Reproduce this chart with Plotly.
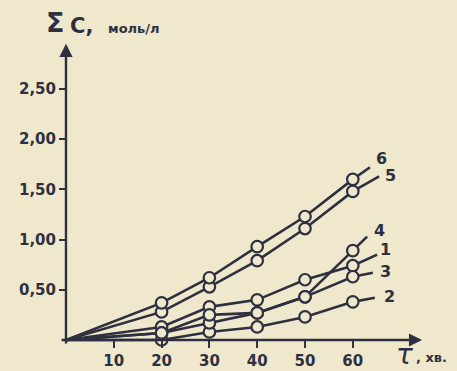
import plotly.graph_objects as go

# ---- data ----
times = [20, 30, 40, 50, 60]
series_names = ["1", "2", "3", "4", "5", "6"]
s1 = [0.13, 0.33, 0.40, 0.60, 0.74]
s2 = [0.00, 0.08, 0.13, 0.23, 0.38]
s3 = [0.07, 0.17, 0.27, 0.43, 0.63]
s4 = [0.07, 0.25, 0.27, 0.43, 0.89]
s5 = [0.28, 0.53, 0.79, 1.11, 1.48]
s6 = [0.37, 0.62, 0.93, 1.23, 1.60]
# hand-drawn line ends beyond the last point
tail_x = [65.1, 64.6, 64.2, 63.0, 65.5, 63.6]
tail_y = [0.85, 0.42, 0.67, 1.03, 1.63, 1.72]
# label positions next to the line ends
label_x = [66.9, 67.6, 66.9, 65.5, 67.8, 66.1]
label_y = [0.90, 0.43, 0.68, 1.09, 1.64, 1.81]

y_tickvals = [0.5, 1.0, 1.5, 2.0, 2.5]
y_ticktext = ["0,50", "1,00", "1,50", "2,00", "2,50"]
x_tickvals = [10, 20, 30, 40, 50, 60]
x_ticktext = ["10", "20", "30", "40", "50", "60"]

INK = "#2e3040"
BG = "#f0e8cd"
FONT = "DejaVu Sans"

xr = [-2.09, 76.15]
yr = [-0.0996, 2.988]

fig = go.Figure()
all_series = [s1, s2, s3, s4, s5, s6]
for i, s in enumerate(all_series):
    fig.add_trace(go.Scatter(
        x=[0] + times + [tail_x[i]], y=[0] + s + [tail_y[i]],
        mode="lines", line=dict(color=INK, width=2.6),
        showlegend=False, hoverinfo="skip", cliponaxis=False))
for i, s in enumerate(all_series):
    fig.add_trace(go.Scatter(
        x=times, y=s, mode="markers", name=series_names[i],
        marker=dict(symbol="circle", size=11.5, color=BG,
                    line=dict(color=INK, width=2.2)),
        showlegend=False, cliponaxis=False))

ann = []
for i in range(len(series_names)):
    ann.append(dict(x=label_x[i], y=label_y[i], xref="x", yref="y",
                    text=series_names[i], showarrow=False,
                    xanchor="center", yanchor="middle",
                    font=dict(family=FONT, size=16, color=INK, weight="bold")))
# axis lines with arrows
ann.append(dict(x=0, y=2.95, ax=0, ay=-0.05, xref="x", yref="y",
                axref="x", ayref="y", text="", showarrow=True,
                arrowhead=2, arrowsize=1.1, arrowwidth=2.4, arrowcolor=INK))
ann.append(dict(x=74.5, y=0, ax=-1.25, ay=0, xref="x", yref="y",
                axref="x", ayref="y", text="", showarrow=True,
                arrowhead=2, arrowsize=1.1, arrowwidth=2.4, arrowcolor=INK))
# axis titles (paper coordinates so they may sit outside the plot area)
ann.append(dict(x=-0.003, y=1.058, xref="paper", yref="paper", xanchor="center",
                yanchor="middle", showarrow=False, text="Σ",
                font=dict(family=FONT, size=27, color=INK, weight="bold")))
ann.append(dict(x=0.032, y=1.046, xref="paper", yref="paper", xanchor="left",
                yanchor="middle", showarrow=False, text="C,",
                font=dict(family=FONT, size=21, color=INK, weight="bold")))
ann.append(dict(x=0.134, y=1.037, xref="paper", yref="paper", xanchor="left",
                yanchor="middle", showarrow=False, text="моль/л",
                font=dict(family=FONT, size=13, color=INK, weight="bold")))
ann.append(dict(x=0.933, y=-0.016, xref="paper", yref="paper", xanchor="center",
                yanchor="middle", showarrow=False, text="τ",
                font=dict(family=FONT, size=28, color=INK, style="italic")))
ann.append(dict(x=0.958, y=-0.023, xref="paper", yref="paper", xanchor="left",
                yanchor="middle", showarrow=False, text=", хв.",
                font=dict(family=FONT, size=13, color=INK, weight="bold")))

xpos = (0 - yr[0]) / (yr[1] - yr[0])
ypos = (0 - xr[0]) / (xr[1] - xr[0])

fig.update_layout(
    width=457, height=371,
    margin=dict(l=56, r=27, t=40, b=21, autoexpand=False),
    paper_bgcolor=BG, plot_bgcolor=BG,
    annotations=ann,
    xaxis=dict(range=xr, showgrid=False, zeroline=False, showline=False,
               anchor="free", position=xpos, automargin=False,
               tickmode="array", tickvals=x_tickvals, ticktext=x_ticktext,
               ticks="outside", ticklen=7, tickwidth=2, tickcolor=INK,
               tickfont=dict(family=FONT, size=15, color=INK, weight="bold")),
    yaxis=dict(range=yr, showgrid=False, zeroline=False, showline=False,
               anchor="free", position=ypos, automargin=False,
               tickmode="array", tickvals=y_tickvals, ticktext=y_ticktext,
               ticks="outside", ticklen=7, tickwidth=2, tickcolor=INK,
               tickfont=dict(family=FONT, size=15, color=INK, weight="bold")),
)

fig.write_html("out.html", config={"displayModeBar": False},
               post_script="document.body.style.margin='0px';document.body.style.background='%s';" % BG)
